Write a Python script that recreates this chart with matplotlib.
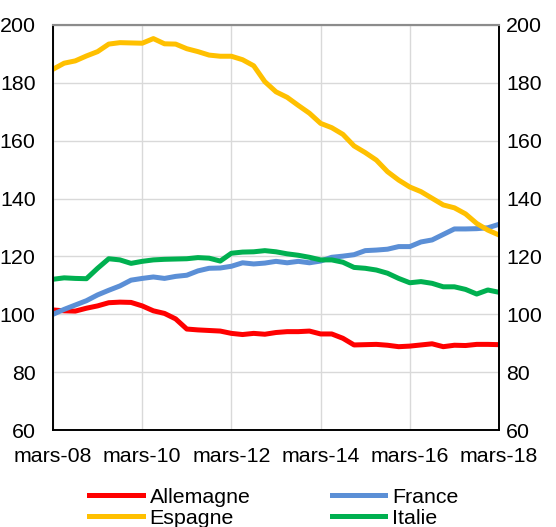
import matplotlib
matplotlib.use('Agg')
from matplotlib import pyplot as plt
import numpy as np

plt.rcParams['font.family'] = ['Liberation Sans', 'DejaVu Sans']

# quarterly index, mars-08 .. mars-18
tick_labels = ['mars-08', 'mars-10', 'mars-12', 'mars-14', 'mars-16', 'mars-18']

allemagne = [101.5, 101.2, 101.1, 102.1, 102.9, 104.0, 104.2, 104.1, 102.9, 101.2,
             100.3, 98.4, 94.9, 94.6, 94.4, 94.2, 93.4, 93.0, 93.4, 93.1,
             93.7, 94.0, 94.0, 94.2, 93.2, 93.2, 91.7, 89.4, 89.5, 89.6,
             89.3, 88.8, 89.0, 89.4, 89.8, 88.8, 89.3, 89.2, 89.6, 89.6, 89.5]
france = [100.0, 101.7, 103.2, 104.7, 106.7, 108.3, 109.8, 111.8, 112.4, 112.9,
          112.4, 113.1, 113.5, 115.0, 115.9, 116.0, 116.6, 117.8, 117.4, 117.7,
          118.3, 117.8, 118.3, 117.8, 118.4, 119.7, 120.1, 120.6, 122.0, 122.2,
          122.5, 123.4, 123.4, 125.0, 125.7, 127.6, 129.5, 129.5, 129.6, 129.9, 131.1]
espagne = [184.7, 186.8, 187.6, 189.3, 190.8, 193.4, 193.9, 193.8, 193.7, 195.3,
           193.5, 193.4, 191.8, 190.8, 189.6, 189.2, 189.2, 188.0, 185.9, 180.4,
           176.9, 175.0, 172.2, 169.5, 166.0, 164.5, 162.2, 158.2, 155.9, 153.3,
           149.3, 146.4, 144.0, 142.4, 140.1, 137.8, 136.8, 134.7, 131.4, 129.1, 127.4]
italie = [112.1, 112.6, 112.4, 112.3, 115.9, 119.2, 118.8, 117.6, 118.3, 118.8,
          119.0, 119.1, 119.2, 119.6, 119.4, 118.4, 121.1, 121.5, 121.6, 122.0,
          121.6, 120.9, 120.4, 119.7, 118.8, 118.8, 118.0, 116.2, 115.9, 115.3,
          114.2, 112.4, 110.9, 111.3, 110.7, 109.5, 109.5, 108.6, 107.0, 108.4, 107.6]

x = np.arange(len(allemagne))

fig = plt.figure(figsize=(5.56, 5.27), dpi=100)
ax = fig.add_axes([53/556., 1-430/527., (499-53)/556., (430-25)/527.])

lw = 3.6
l1, = ax.plot(x, allemagne, color='#ff0000', lw=lw, label='Allemagne')
l2, = ax.plot(x, france, color='#5b8fd6', lw=lw, label='France')
l3, = ax.plot(x, espagne, color='#ffc000', lw=lw, label='Espagne')
l4, = ax.plot(x, italie, color='#00b050', lw=lw, label='Italie')

ax.set_xlim(0, 40)
ax.set_ylim(60, 200)
ax.set_xticks(np.arange(0, 41, 8))
ax.set_xticklabels(tick_labels)
ax.set_yticks(np.arange(60, 201, 20))
ax.grid(True, color='#d9d9d9', lw=1)
ax.set_axisbelow(True)
ax.tick_params(axis='x', length=0, pad=12, labelsize=15.4)
ax.tick_params(axis='y', length=0, pad=12.5, labelsize=15.4)

ax2 = ax.twinx()
ax2.set_ylim(60, 200)
ax2.set_yticks(np.arange(60, 201, 20))
ax2.tick_params(axis='y', length=0, pad=5, labelsize=15.4)

for a in (ax, ax2):
	for s in ['left', 'right', 'bottom']:
		a.spines[s].set_color('#000000')
		a.spines[s].set_linewidth(1.2)
	a.spines['top'].set_color('#8c8c8c')
	a.spines['top'].set_linewidth(1.5)

leg = fig.legend([l1, l3, l2, l4], ['Allemagne', 'Espagne', 'France', 'Italie'],
	ncol=2, loc='upper center', bbox_to_anchor=(274/556., 1-477/527.),
	frameon=False, fontsize=15.4, handlelength=2.5, handletextpad=0.33,
	columnspacing=3.8, labelspacing=0.1, borderpad=0)

fig.savefig('out.png', dpi=100)
